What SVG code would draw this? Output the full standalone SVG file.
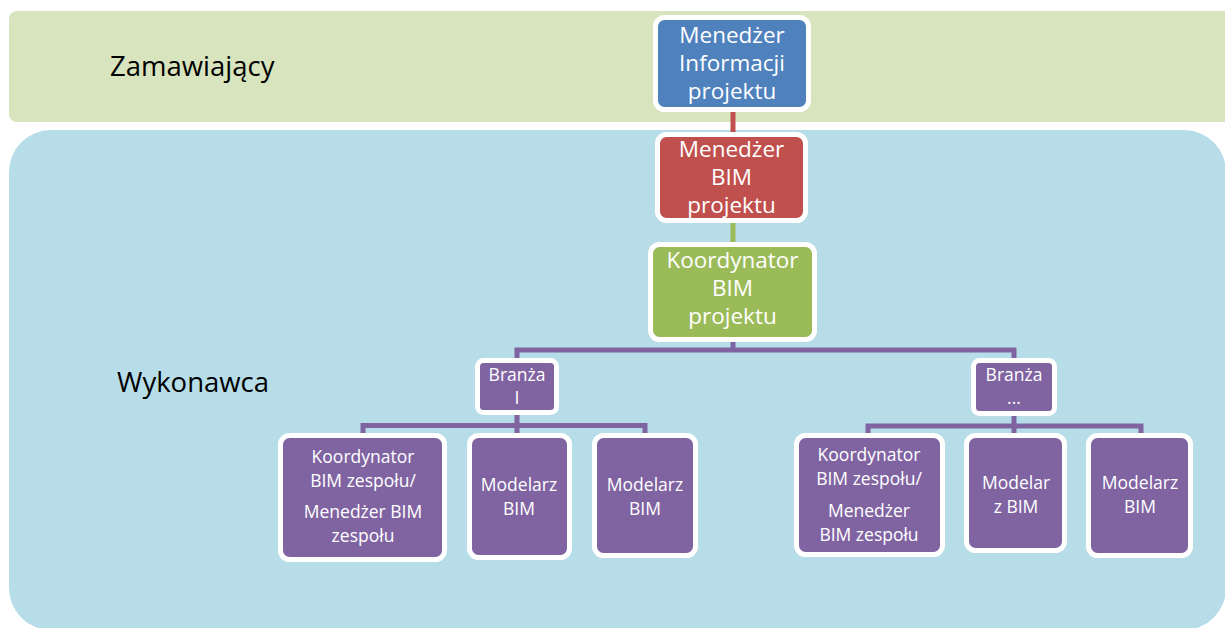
<svg xmlns="http://www.w3.org/2000/svg" width="1225" height="628" viewBox="0 0 1225 628">
  <style>
    text { font-family: "Open Sans", "Noto Sans", "DejaVu Sans", sans-serif; }
    .lbl { font-size: 27.5px; fill: #000000; }
    .big { font-size: 22.5px; fill: #FFFFFF; text-anchor: middle; }
    .sm { font-size: 17.5px; fill: #FFFFFF; text-anchor: middle; }
    .box { stroke: #FFFFFF; stroke-width: 5; }
    .blue { fill: #4F81BD; }
    .red { fill: #C0504D; }
    .green { fill: #9BBB59; }
    .purple { fill: #8064A2; }
    .conn { fill: none; stroke-width: 5; stroke-linejoin: miter; }
  </style>

  <!-- swimlane backgrounds -->
  <g id="lanes">
    <rect x="9" y="11" width="1230" height="111" rx="8" fill="#D7E4BD"/>
    <rect x="9" y="130" width="1217" height="500" rx="42" fill="#B7DDE8"/>
    <text class="lbl" x="110" y="76">Zamawiający</text>
    <text class="lbl" x="117" y="392">Wykonawca</text>
  </g>

  <!-- connectors -->
  <g id="connectors">
    <line class="conn" x1="733" y1="110" x2="733" y2="135" stroke="#C0504D"/>
    <line class="conn" x1="733" y1="221" x2="733" y2="245" stroke="#9BBB59"/>
    <path class="conn" stroke="#8064A2" d="M733 340 V350 M517 361 V350 H1014 V361"/>
    <path class="conn" stroke="#8064A2" d="M363 436 V425.5 H645 V436 M517 413 V436"/>
    <path class="conn" stroke="#8064A2" d="M868 436 V426 H1141 V436 M1014 414 V436"/>
  </g>

  <g id="n-menedzer-informacji">
    <rect class="box blue" x="655.5" y="17.5" width="153" height="92" rx="9"/>
    <text class="big" x="732" y="43">Menedżer</text>
    <text class="big" x="732" y="71">Informacji</text>
    <text class="big" x="732" y="99">projektu</text>
  </g>

  <g id="n-menedzer-bim">
    <rect class="box red" x="657.5" y="134.5" width="148" height="86" rx="9"/>
    <text class="big" x="731.5" y="157">Menedżer</text>
    <text class="big" x="731.5" y="185">BIM</text>
    <text class="big" x="731.5" y="213">projektu</text>
  </g>

  <g id="n-koordynator-bim">
    <rect class="box green" x="650.5" y="244.5" width="164" height="95" rx="9"/>
    <text class="big" x="732.5" y="268">Koordynator</text>
    <text class="big" x="732.5" y="296">BIM</text>
    <text class="big" x="732.5" y="324">projektu</text>
  </g>

  <g id="n-branza-1">
    <rect class="box purple" x="477.5" y="360.5" width="79" height="52" rx="6"/>
    <text class="sm" x="517" y="381">Branża</text>
    <text class="sm" x="517" y="404">I</text>
  </g>

  <g id="n-branza-2">
    <rect class="box purple" x="973.5" y="360.5" width="81" height="53" rx="6"/>
    <text class="sm" x="1014" y="381">Branża</text>
    <text class="sm" x="1014" y="404">...</text>
  </g>

  <g id="n-koordynator-zespolu-1">
    <rect class="box purple" x="280.5" y="435.5" width="164" height="124" rx="9"/>
    <text class="sm" x="363" y="463">Koordynator</text>
    <text class="sm" x="363" y="487">BIM zespołu/</text>
    <text class="sm" x="363" y="518">Menedżer BIM</text>
    <text class="sm" x="363" y="542">zespołu</text>
  </g>

  <g id="n-modelarz-1a">
    <rect class="box purple" x="469.5" y="435.5" width="100" height="122" rx="9"/>
    <text class="sm" x="519" y="491">Modelarz</text>
    <text class="sm" x="519" y="515">BIM</text>
  </g>

  <g id="n-modelarz-1b">
    <rect class="box purple" x="594.5" y="435.5" width="101" height="120" rx="9"/>
    <text class="sm" x="645" y="491">Modelarz</text>
    <text class="sm" x="645" y="515">BIM</text>
  </g>

  <g id="n-koordynator-zespolu-2">
    <rect class="box purple" x="796.5" y="435.5" width="146" height="119" rx="9"/>
    <text class="sm" x="869" y="461">Koordynator</text>
    <text class="sm" x="869" y="485">BIM zespołu/</text>
    <text class="sm" x="869" y="517">Menedżer</text>
    <text class="sm" x="869" y="541">BIM zespołu</text>
  </g>

  <g id="n-modelarz-2a">
    <rect class="box purple" x="966.5" y="435.5" width="98" height="115" rx="9"/>
    <text class="sm" x="1016" y="489">Modelar</text>
    <text class="sm" x="1016" y="513">z BIM</text>
  </g>

  <g id="n-modelarz-2b">
    <rect class="box purple" x="1088.5" y="435.5" width="102" height="120" rx="9"/>
    <text class="sm" x="1140" y="489">Modelarz</text>
    <text class="sm" x="1140" y="513">BIM</text>
  </g>
</svg>
